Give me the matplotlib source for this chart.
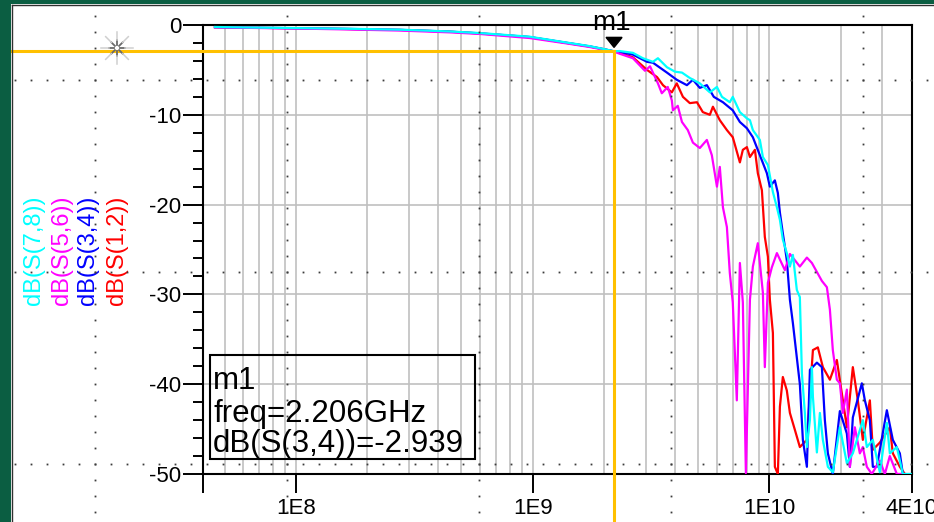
import numpy as np
import matplotlib
matplotlib.use("Agg")
import matplotlib.pyplot as plt
from matplotlib.ticker import FixedLocator, FixedFormatter, LogLocator, NullFormatter, MultipleLocator
from matplotlib.lines import Line2D
from matplotlib.patches import Rectangle, Polygon
from matplotlib.transforms import IdentityTransform

plt.rcParams["font.family"] = ["Liberation Sans", "DejaVu Sans"]
plt.rcParams["axes.unicode_minus"] = False

# ---------------- data (frequency in GHz, magnitude in dB) ----------------
s12_f = [0.0455, 0.064, 0.104, 0.169, 0.275, 0.447, 0.60, 0.97, 1.39, 1.74, 2.00, 2.206,
         2.33, 2.65, 3.04, 3.35, 3.55, 3.87, 4.06, 4.31, 4.61, 4.94, 5.23, 5.60, 5.77, 6.17,
         6.61, 7.00, 7.50, 7.72, 8.03, 8.27, 8.68, 8.93, 9.29, 9.56, 9.85, 10.04, 10.34, 10.54,
         10.85, 11.07, 11.39, 11.84, 12.20, 12.81, 13.44, 14.39, 15.26, 16.01, 16.81, 18.00,
         19.26, 20.42, 21.23, 22.50, 23.62, 24.80, 26.55, 27.33, 29.26, 32.24, 33.20, 35.54, 37.31]
s12_db = [-0.25, -0.30, -0.37, -0.45, -0.55, -0.75, -0.95, -1.35, -2.00, -2.40, -2.70, -2.94,
          -3.1, -3.6, -5.0, -5.8, -6.7, -7.5, -6.5, -8.0, -8.7, -8.6, -9.7, -10.0, -9.1, -10.6,
          -11.7, -12.5, -15.3, -13.9, -13.6, -14.7, -13.9, -16.5, -18.4, -23.6, -25.8, -30.6, -34.3, -49.2,
          -50.0, -42.5, -39.2, -40.7, -43.2, -45.1, -47.0, -46.2, -36.2, -35.9, -38.1, -39.5,
          -37.3, -41.8, -44.8, -38.1, -41.8, -46.2, -41.8, -47.3, -46.5, -44.8, -47.7, -49.2, -50.0]

s34_f = [0.0455, 0.064, 0.104, 0.169, 0.275, 0.447, 0.60, 0.97, 1.39, 1.74, 2.00, 2.206,
         2.33, 2.65, 3.04, 3.22, 3.69, 4.06, 4.48, 4.75, 5.08, 5.44, 5.82, 6.36, 7.00, 7.50,
         8.03, 8.51, 9.11, 9.75, 10.04, 10.54, 10.85, 11.07, 11.39, 11.62, 11.84, 12.20, 12.56,
         13.44, 13.84, 14.39, 14.82, 15.86, 16.65, 17.14, 17.65, 18.52, 19.83, 21.23, 21.86,
         22.50, 24.56, 25.29, 26.55, 27.33, 28.41, 31.32, 33.20, 35.54, 36.59]
s34_db = [-0.24, -0.30, -0.36, -0.44, -0.54, -0.74, -0.93, -1.34, -1.98, -2.38, -2.70, -2.939,
          -3.0, -3.3, -4.1, -4.2, -5.3, -6.1, -6.7, -6.1, -7.0, -6.7, -8.0, -8.6, -9.5, -10.8,
          -11.5, -12.5, -14.5, -16.5, -18.0, -17.3, -18.7, -20.9, -23.2, -24.7, -26.2, -30.6, -33.2,
          -40.0, -46.2, -49.2, -38.4, -37.6, -38.1, -44.0, -47.7, -50.0, -43.0, -45.5, -49.2,
          -43.7, -39.9, -41.8, -44.0, -49.2, -49.2, -42.9, -46.2, -47.7, -50.0]

s56_f = [0.0455, 0.064, 0.104, 0.169, 0.275, 0.447, 0.60, 0.97, 1.39, 1.74, 2.00, 2.206,
         2.33, 2.65, 2.98, 3.13, 3.38, 3.51, 3.72, 3.87, 3.91, 4.10, 4.27, 4.52, 4.75, 5.08,
         5.44, 5.71, 6.00, 6.17, 6.36, 6.61, 6.80, 7.00, 7.28, 7.50, 7.72, 7.95, 8.27, 8.51,
         8.93, 9.38, 9.56, 9.85, 10.23, 10.75, 11.62, 12.20, 12.81, 13.44, 14.39, 15.11, 15.86,
         16.65, 17.48, 18.00, 18.52, 19.26, 19.83, 20.42, 21.23, 21.86, 22.94, 24.09, 24.80,
         25.78, 27.06, 29.26, 30.72, 32.24, 34.51, 37.31]
s56_db = [-0.25, -0.32, -0.40, -0.50, -0.62, -0.82, -1.00, -1.45, -2.05, -2.45, -2.75, -2.96,
          -3.2, -3.7, -5.1, -4.6, -6.5, -7.6, -6.9, -8.4, -9.5, -9.0, -10.8, -11.7, -13.1, -13.7,
          -12.8, -14.5, -18.0, -15.8, -20.3, -22.5, -27.6, -30.9, -41.8, -26.5, -30.9, -49.9, -30.6, -26.9,
          -24.3, -29.8, -38.1, -28.7, -27.0, -25.4, -27.3, -25.5, -26.2, -26.9, -25.9, -26.5, -27.5,
          -28.5, -29.2, -31.7, -36.2, -39.5, -39.9, -43.2, -40.6, -49.2, -44.8, -47.7, -47.0,
          -49.2, -50.0, -48.5, -50.0, -48.0, -50.0, -50.0]

s78_f = [0.0455, 0.064, 0.104, 0.169, 0.275, 0.447, 0.60, 0.97, 1.39, 1.74, 2.00, 2.206,
         2.33, 2.65, 2.92, 3.22, 3.38, 3.69, 3.99, 4.27, 4.61, 5.08, 5.60, 6.00, 6.30, 6.80,
         7.00, 7.50, 8.03, 8.27, 8.51, 9.11, 9.38, 9.85, 10.34, 10.75, 11.07, 11.39, 11.84,
         12.20, 12.56, 13.05, 13.44, 13.71, 14.11, 14.39, 14.82, 15.11, 15.26, 15.86, 16.33,
         16.81, 17.65, 18.52, 19.83, 21.23, 22.50, 24.80, 25.78, 27.33, 29.26, 31.32, 32.24,
         34.51, 36.59, 39.5]
s78_db = [-0.22, -0.28, -0.35, -0.42, -0.52, -0.72, -0.90, -1.30, -1.95, -2.35, -2.68, -2.92,
          -2.9, -3.1, -3.7, -4.1, -3.7, -4.7, -5.2, -5.3, -5.9, -6.5, -7.5, -6.9, -8.0, -8.6,
          -8.0, -9.7, -10.4, -10.6, -11.7, -12.8, -14.7, -15.6, -18.6, -20.3, -21.7, -23.9, -25.4,
          -26.9, -25.6, -29.5, -30.3, -38.8, -43.2, -47.0, -44.0, -38.1, -41.4, -47.6, -43.2,
          -46.2, -49.2, -49.8, -44.8, -48.8, -47.7, -44.0, -47.0, -46.2, -49.8, -44.3, -47.7,
          -47.0, -50.0, -50.0]

series_names = ["dB(S(1,2))", "dB(S(3,4))", "dB(S(5,6))", "dB(S(7,8))"]
series_colors = ["#ff0000", "#0000ff", "#ff00ff", "#00ffff"]
series_f = [s12_f, s34_f, s56_f, s78_f]
series_db = [s12_db, s34_db, s56_db, s78_db]

marker_name = "m1"
marker_f_ghz = 2.206
marker_db = -2.939
marker_trace = "dB(S(3,4))"

x_ticks = [1e8, 1e9, 1e10, 4e10]
x_tick_labels = ["1E8", "1E9", "1E10", "4E10"]
y_ticks = [0, -10, -20, -30, -40, -50]
X_MIN, X_MAX = 4.05e7, 4.0e10

# ---------------- figure ----------------
W, H = 934, 522
fig = plt.figure(figsize=(W / 100, H / 100), dpi=100)
fig.patch.set_facecolor("white")

def fx(px):
    return px / W

def fy(py):
    return 1 - py / H

ax = fig.add_axes([fx(203), fy(474), (912 - 203) / W, (474 - 25) / H])
ax.set_xscale("log")
ax.set_xlim(X_MIN, X_MAX)
ax.set_ylim(-50, 0)
ax.set_axisbelow(True)

grid_kw = dict(color="#c0c0c0", linewidth=1.2)
ax.xaxis.set_major_locator(FixedLocator([X_MIN] + x_ticks))
ax.xaxis.set_major_formatter(FixedFormatter([""] + x_tick_labels))
ax.xaxis.set_minor_locator(LogLocator(base=10, subs=np.arange(2, 10), numticks=30))
ax.xaxis.set_minor_formatter(NullFormatter())
ax.grid(True, which="both", axis="x", **grid_kw)
ax.set_yticks(y_ticks)
ax.yaxis.set_minor_locator(MultipleLocator(2))
ax.grid(True, which="major", axis="y", **grid_kw)

ax.tick_params(axis="x", which="major", direction="out", length=13.5, width=1.4,
               labelsize=16, pad=4, colors="black")
ax.tick_params(axis="x", which="minor", length=0)
ax.tick_params(axis="y", which="major", direction="out", length=14.5, width=1.4,
               labelsize=16, pad=1, colors="black")
ax.tick_params(axis="y", which="minor", direction="out", length=7.5, width=1.4)
for s in ax.spines.values():
    s.set_linewidth(1.5)
    s.set_color("black")

for f, db, c in zip(series_f, series_db, series_colors):
    ax.plot(np.array(f) * 1e9, db, color=c, linewidth=1.6, zorder=3)

# ---------------- marker ----------------
xd, yd = ax.transData.transform((marker_f_ghz * 1e9, marker_db))
gold = "#ffc000"
fig.add_artist(Line2D([xd, xd], [yd, 0], color=gold, linewidth=2.2,
                      transform=IdentityTransform(), zorder=6))
fig.add_artist(Line2D([11, xd], [yd, yd], color=gold, linewidth=2.2,
                      transform=IdentityTransform(), zorder=6))
fig.add_artist(Polygon([[xd - 8, yd + 14], [xd + 8, yd + 14], [xd, yd + 4]], closed=True,
                       facecolor="black", edgecolor="black", transform=IdentityTransform(),
                       zorder=7))
fig.text(fx(xd - 3), (yd + 21) / H, marker_name, ha="center", va="baseline",
         fontsize=20, color="black", zorder=8)

# readout box
fig.add_artist(Rectangle((fx(210), fy(459)), (475 - 210) / W, (459 - 355) / H,
                         fill=False, edgecolor="black", linewidth=1.5,
                         transform=fig.transFigure, zorder=6))
readout = [marker_name, "freq={:.3f}GHz".format(marker_f_ghz),
           "{}={:.3f}".format(marker_trace, marker_db)]
for txt, base in zip(readout, [389, 422, 452]):
    fig.text(fx(213), fy(base), txt, ha="left", va="baseline", fontsize=22.5,
             color="black", zorder=8)

# vertical trace labels
order = [3, 2, 1, 0]
for xpix, idx in zip([34, 62, 88, 117], order):
    fig.text(fx(xpix), fy(250), series_names[idx], rotation=90, ha="center", va="center",
             fontsize=17, color=series_colors[idx])

# ---------------- window decoration ----------------
green = "#0b5e42"
fig.add_artist(Rectangle((0, 0), fx(11), 1, facecolor=green, edgecolor="none",
                         transform=fig.transFigure, zorder=9))
fig.add_artist(Rectangle((0, fy(4)), 1, 4 / H, facecolor=green, edgecolor="none",
                         transform=fig.transFigure, zorder=9))
fig.add_artist(Line2D([11.5, 11.5], [0, H - 4.5], color="#303030", linewidth=1,
                      transform=IdentityTransform(), zorder=9))
fig.add_artist(Line2D([11.5, W], [H - 4.5, H - 4.5], color="#303030", linewidth=1,
                      transform=IdentityTransform(), zorder=9))

# snap-grid dots
dot_kw = dict(linestyle="none", marker="s", markersize=1.3, color="#3c3c3c",
              markeredgewidth=0, transform=IdentityTransform(), zorder=8)
xs = np.arange(15, W, 16)
for yy in [80, 272, 464]:
    fig.add_artist(Line2D(xs, np.full(xs.shape, H - yy), **dot_kw))
ys = np.arange(16, H, 16)
for xx in [95, 287, 479, 671, 863]:
    fig.add_artist(Line2D(np.full(ys.shape, xx), H - ys, **dot_kw))

# sparkle icon
cx, cy = 117, H - 48
for ang in np.deg2rad(np.arange(0, 360, 45)):
    ca, sa = np.cos(ang), np.sin(ang)
    fig.add_artist(Line2D([cx + 3 * ca, cx + 8 * ca], [cy + 3 * sa, cy + 8 * sa],
                          color="#6a6a6a", linewidth=1.3, transform=IdentityTransform(),
                          zorder=8))
    fig.add_artist(Line2D([cx + 8 * ca, cx + 16 * ca], [cy + 8 * sa, cy + 16 * sa],
                          color="#cfcfcf", linewidth=1.1, transform=IdentityTransform(),
                          zorder=8))

fig.savefig("out.png", dpi=100)
